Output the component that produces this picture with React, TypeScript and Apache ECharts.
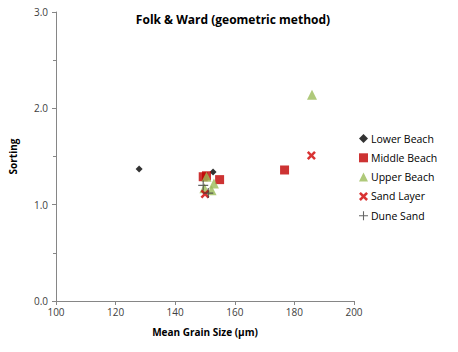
import React, { useEffect, useRef } from "react";
import * as echarts from "echarts";

const lowerBeach: [number, number][] = [[127.9, 1.37], [152.7, 1.34]];
const middleBeach: [number, number][] = [[176.7, 1.36], [149.4, 1.29], [154.9, 1.26], [150.5, 1.3]];
const upperBeach: [number, number][] = [[185.9, 2.14], [150.5, 1.29], [152.2, 1.15], [149.8, 1.17], [153, 1.22]];
const sandLayer: [number, number][] = [[185.7, 1.51], [150.0, 1.11]];
const duneSand: [number, number][] = [[149.4, 1.2], [151.1, 1.12]];
const xTicks = [100, 120, 140, 160, 180, 200];
const yTicks = [0, 1, 2, 3];

const crossPath = "path://M0,2 L2,0 L5,3 L8,0 L10,2 L7,5 L10,8 L8,10 L5,7 L2,10 L0,8 L3,5 Z";
const plusPath = "path://M4.4,0 H5.6 V4.4 H10 V5.6 H5.6 V10 H4.4 V5.6 H0 V4.4 H4.4 Z";

export default function App() {
  const ref = useRef<HTMLDivElement>(null);
  useEffect(() => {
    const chart = echarts.init(ref.current!, null, { renderer: "svg" });
    const font = "'Open Sans', 'Liberation Sans', sans-serif";
    const axisLine = { lineStyle: { color: "#868686", width: 1 } };
    chart.setOption({
      animation: false,
      textStyle: { fontFamily: font },
      title: {
        text: "Folk & Ward (geometric method)",
        left: 228,
        textAlign: "center",
        top: 8,
        textStyle: { fontSize: 12, fontWeight: "bold", color: "#000", fontFamily: font },
      },
      legend: {
        orient: "vertical",
        left: 354,
        top: 128,
        itemGap: 8.3,
        itemWidth: 9,
        itemHeight: 9,
        textStyle: { fontSize: 10.5, color: "#000", fontFamily: font, padding: [0, 0, 0, -2] },
        data: ["Lower Beach", "Middle Beach", "Upper Beach", "Sand Layer", "Dune Sand"],
      },
      grid: { left: 53, right: 104, top: 12, bottom: 51, containLabel: false },
      xAxis: {
        type: "value",
        min: xTicks[0],
        max: xTicks[xTicks.length - 1],
        interval: 20,
        name: "Mean Grain Size (µm)",
        nameLocation: "middle",
        nameGap: 26,
        nameTextStyle: { fontSize: 10, fontWeight: "bold", color: "#000", fontFamily: font },
        axisLine,
        axisTick: { show: true, length: 4, lineStyle: { color: "#868686" } },
        axisLabel: { fontSize: 10, color: "#404040", margin: 6 },
        splitLine: { show: false },
      },
      yAxis: {
        type: "value",
        min: yTicks[0],
        max: yTicks[yTicks.length - 1],
        interval: 1,
        name: "Sorting",
        nameLocation: "middle",
        nameGap: 38,
        nameTextStyle: { fontSize: 10, fontWeight: "bold", color: "#000", fontFamily: font },
        axisLine: { show: true, ...axisLine },
        axisTick: { show: true, length: 4, lineStyle: { color: "#868686" } },
        minorTick: { show: true, splitNumber: 2, length: 3, lineStyle: { color: "#868686" } },
        axisLabel: { fontSize: 10, color: "#404040", margin: 8, formatter: (v: number) => v.toFixed(1) },
        splitLine: { show: false },
      },
      series: [
        { name: "Lower Beach", type: "scatter", data: lowerBeach, symbol: "diamond", symbolSize: 7, itemStyle: { color: "#000" } },
        { name: "Middle Beach", type: "scatter", data: middleBeach, symbol: "rect", symbolSize: 9, itemStyle: { color: "#C00000" } },
        { name: "Upper Beach", type: "scatter", data: upperBeach, symbol: "triangle", symbolSize: 10, itemStyle: { color: "#9BBB59" } },
        { name: "Sand Layer", type: "scatter", data: sandLayer, symbol: crossPath, symbolSize: 9, itemStyle: { color: "#D00000" } },
        { name: "Dune Sand", type: "scatter", data: duneSand, symbol: plusPath, symbolSize: 10, itemStyle: { color: "#404040" } },
      ],
    });
    return () => chart.dispose();
  }, []);
  return <div ref={ref} style={{ width: 458, height: 352, margin: -8 }} />;
}
